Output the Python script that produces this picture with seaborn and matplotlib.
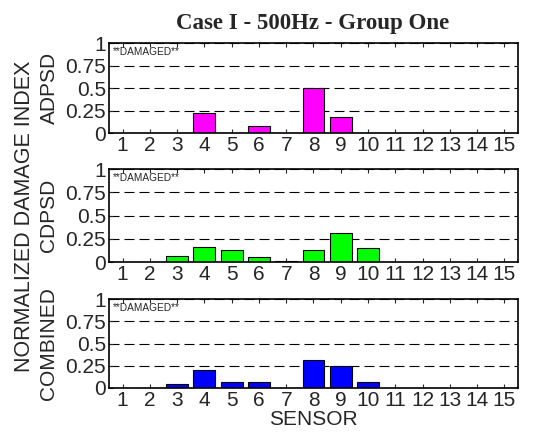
import numpy as np
import pandas as pd
import matplotlib
matplotlib.use('Agg')
import matplotlib.pyplot as plt
import seaborn as sns

# sensor numbers and normalized damage index per method
sensors = list(range(1, 16))
adpsd = [0.0, 0.005, 0.0, 0.227, 0.005, 0.083, 0.0, 0.5, 0.178, 0.0, 0.0, 0.0, 0.0, 0.0, 0.0]
cdpsd = [0.002, 0.002, 0.065, 0.16, 0.127, 0.05, 0.011, 0.127, 0.31, 0.149, 0.002, 0.002, 0.002, 0.0, 0.002]
combined = [0.002, 0.002, 0.04, 0.2, 0.067, 0.07, 0.003, 0.31, 0.248, 0.07, 0.002, 0.002, 0.002, 0.0, 0.002]

panel_names = ['ADPSD', 'CDPSD', 'COMBINED']
panel_colors = ['#ff00ff', '#00ff00', '#0000ff']
yticks = [0, 0.25, 0.5, 0.75, 1]
ytick_labels = ['0', '0.25', '0.5', '0.75', '1']

sns.set_style('ticks')
plt.rcParams['font.family'] = ['Liberation Sans', 'DejaVu Sans']

fig = plt.figure(figsize=(5.34, 4.34), dpi=100)

# axes boxes in figure fractions (left, bottom, width, height)
boxes = [
    [0.204, 0.6935, 0.766, 0.207],
    [0.204, 0.396, 0.766, 0.214],
    [0.204, 0.106, 0.766, 0.205],
]

for vals, name, col, box in zip([adpsd, cdpsd, combined], panel_names, panel_colors, boxes):
    ax = fig.add_axes(box)
    df = pd.DataFrame({'Sensor': sensors, 'Value': vals})
    sns.barplot(data=df, x='Sensor', y='Value', color=col, saturation=1,
                edgecolor='black', linewidth=0.8, width=0.8, ax=ax)
    ax.set_xlim(-0.5, 14.5)
    ax.set_ylim(0, 1)
    ax.set_yticks(yticks)
    ax.set_yticklabels(ytick_labels)
    ax.set_axisbelow(True)
    ax.yaxis.grid(True, linestyle=(0, (9, 4.5)), color='black', linewidth=0.8)
    ax.tick_params(axis='both', direction='in', top=True, right=False,
                   labelsize=15, length=3, width=0.8, pad=2)
    for s in ax.spines.values():
        s.set_linewidth(1.2)
        s.set_color('black')
    ax.set_ylabel(name, fontsize=15, labelpad=5)
    ax.set_xlabel('')
    ax.text(0.01, 0.96, '**DAMAGED**', transform=ax.transAxes,
            fontsize=7.3, va='top', ha='left')

ax.set_xlabel('SENSOR', fontsize=15, labelpad=0)
fig.text(0.586, 0.945, 'Case I - 500Hz - Group One', ha='center', va='center',
         fontsize=16.5, fontweight='bold', family='Liberation Serif')
fig.text(0.045, 0.502, 'NORMALIZED DAMAGE INDEX', rotation=90, ha='center', va='center',
         fontsize=15.5)

fig.savefig('out.png', dpi=100)
